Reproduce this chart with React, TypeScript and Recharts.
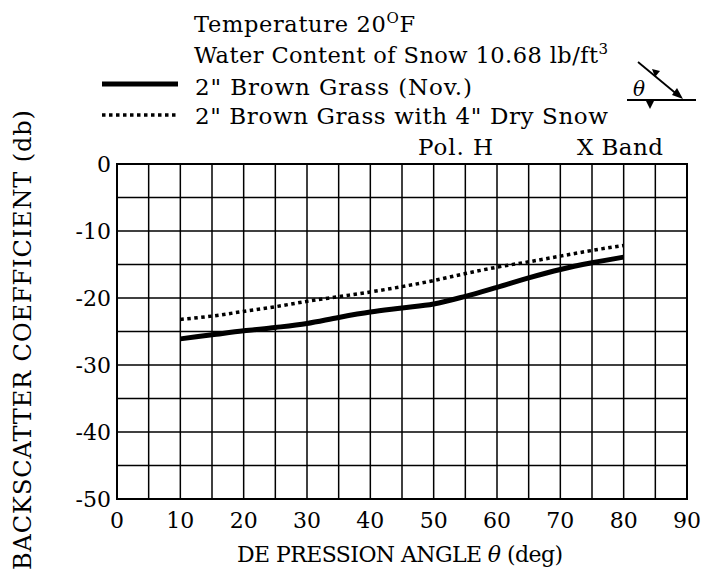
import { CartesianGrid, Line, LineChart, ReferenceArea, XAxis, YAxis } from "recharts";

// depression angle (deg) sampled along the curves
const angles = [10, 15, 20, 25, 30, 35, 40, 45, 50, 55, 60, 65, 70, 75, 80];
// 2" brown grass (Nov.)
const grassOnly = [-26.1, -25.5, -24.9, -24.4, -23.8, -22.9, -22.1, -21.5, -20.9, -19.75, -18.4, -17.0, -15.75, -14.75, -13.9];
// 2" brown grass with 4" dry snow
const grassSnow = [-23.2, -22.7, -22.0, -21.3, -20.5, -19.8, -19.1, -18.3, -17.4, -16.35, -15.4, -14.6, -13.75, -12.9, -12.15];

const xTicks = [0, 5, 10, 15, 20, 25, 30, 35, 40, 45, 50, 55, 60, 65, 70, 75, 80, 85, 90];
const yTicks = [-50, -45, -40, -35, -30, -25, -20, -15, -10, -5, 0];

const data = angles.map((a, i) => ({ angle: a, grass: grassOnly[i], snow: grassSnow[i] }));

const font = "'DejaVu Serif', 'Liberation Serif', serif";
const tenOnly = (v: number) => (v % 10 === 0 ? String(v) : "");

export default function App() {
  return (
    <div style={{ position: "absolute", left: 0, top: 0, width: 703, height: 581, background: "#fff" }}>
      <LineChart
        width={703}
        height={581}
        data={data}
        margin={{ top: 164, right: 16, left: 0, bottom: 0 }}
      >
        <CartesianGrid stroke="#000" strokeWidth={1.5} strokeOpacity={1} />
        <XAxis
          type="number"
          dataKey="angle"
          domain={[0, 90]}
          ticks={xTicks}
          interval={0}
          tickFormatter={tenOnly}
          tickLine={false}
          tickSize={0}
          tickMargin={13}
          height={82}
          axisLine={{ stroke: "#000", strokeWidth: 2 }}
          tick={{ fill: "#000", fontSize: 22, fontFamily: font }}
        />
        <YAxis
          type="number"
          domain={[-50, 0]}
          ticks={yTicks}
          interval={0}
          tickFormatter={tenOnly}
          tickLine={false}
          tickSize={0}
          tickMargin={6}
          width={117}
          axisLine={{ stroke: "#000", strokeWidth: 2 }}
          tick={{ fill: "#000", fontSize: 22, fontFamily: font }}
        />
        <ReferenceArea x1={0} x2={90} y1={-50} y2={0} fill="none" stroke="#000" strokeWidth={2} ifOverflow="visible" />
        <Line
          dataKey="grass"
          type="monotone"
          stroke="#000"
          strokeWidth={5}
          dot={false}
          isAnimationActive={false}
        />
        <Line
          dataKey="snow"
          type="monotone"
          stroke="#000"
          strokeWidth={3.5}
          strokeDasharray="3.5 3.5"
          dot={false}
          isAnimationActive={false}
        />
      </LineChart>

      <svg
        width={703}
        height={581}
        style={{ position: "absolute", left: 0, top: 0, pointerEvents: "none" }}
        fontFamily={font}
        fill="#000"
      >
        <text x={194} y={32} fontSize={22.5} textLength={221} lengthAdjust="spacing">
          Temperature 20<tspan fontSize={15} dy={-9}>O</tspan>
          <tspan dy={9}>F</tspan>
        </text>
        <text x={194} y={63} fontSize={22.5} textLength={414} lengthAdjust="spacing">
          Water Content of Snow 10.68 lb/ft<tspan fontSize={15} dy={-9}>3</tspan>
        </text>

        <line x1={102} x2={178} y1={84} y2={84} stroke="#000" strokeWidth={5} />
        <text x={195} y={95} fontSize={23} textLength={277} lengthAdjust="spacing">
          2" Brown Grass (Nov.)
        </text>
        <line x1={102} x2={178} y1={115} y2={115} stroke="#000" strokeWidth={3.5} strokeDasharray="3.5 3.5" />
        <text x={195} y={124} fontSize={23} textLength={413} lengthAdjust="spacing">
          2" Brown Grass with 4" Dry Snow
        </text>

        <text x={418} y={155} fontSize={23} textLength={75} lengthAdjust="spacing">Pol. H</text>
        <text x={577} y={155} fontSize={23} textLength={86} lengthAdjust="spacing">X Band</text>

        {/* depression angle sketch */}
        <line x1={627} x2={696} y1={100} y2={100} stroke="#000" strokeWidth={2} />
        <line x1={638} x2={679} y1={62} y2={96} stroke="#000" strokeWidth={1.8} />
        <polygon points="683,99 672,95 677,88" />
        <polygon points="655,77 652,69 660,71" />
        <polygon points="650,109 646,101 654,101" />
        <text x={633} y={96} fontSize={20} fontStyle="italic">θ</text>

        <text
          transform="translate(31 340) rotate(-90)"
          textAnchor="middle"
          fontSize={24}
          textLength={460}
          lengthAdjust="spacing"
        >
          BACKSCATTER COEFFICIENT (db)
        </text>
        <text x={237} y={562} fontSize={22} textLength={326} lengthAdjust="spacing">
          DE PRESSION ANGLE <tspan fontStyle="italic">θ</tspan> (deg)
        </text>
      </svg>
    </div>
  );
}
